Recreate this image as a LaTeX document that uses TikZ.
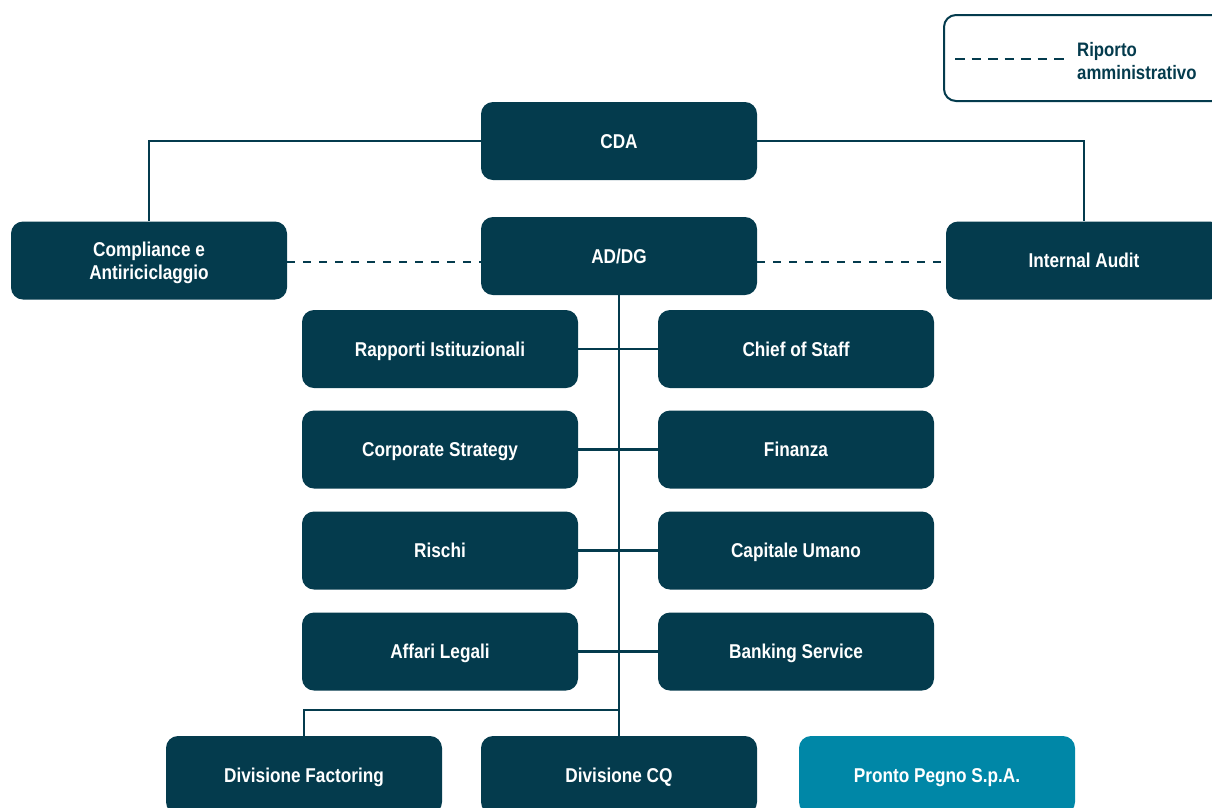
\documentclass[tikz,border=0pt]{standalone}
\usepackage{fontspec}
\setmainfont{Liberation Sans}[FakeStretch=0.86]
\definecolor{dark}{HTML}{043B4D}
\definecolor{teal}{HTML}{0087A7}
\begin{document}
\begin{tikzpicture}[x=1pt,y=-1pt,
  box/.style={rectangle,rounded corners=12pt,minimum width=276pt,minimum height=78pt,inner sep=0pt,fill=dark,text=white,font=\fontsize{20}{23}\selectfont\bfseries,align=center,text height=17pt,text depth=2.7pt},
  link/.style={draw=dark,line width=2.2pt},
  dlink/.style={draw=dark,line width=2.5pt,dash pattern=on 8pt off 8pt}]
\useasboundingbox (0,0) rectangle (1212,807);
\begin{scope}
\clip (0,0) rectangle (1212,807);
% legend
\node[draw=dark,line width=2pt,rounded corners=12pt,fill=white,minimum width=280pt,minimum height=86pt,inner sep=0pt] (leg) at (1084,58) {};
\coordinate (lga) at (955,59);
\coordinate (lgb) at (1067,59);
\draw[dlink,dash pattern=on 9.5pt off 7pt] (lga) -- (lgb);
\node[anchor=west,text=dark,font=\fontsize{19.5}{23}\selectfont\bfseries,align=left,inner sep=0pt,text height=40pt,text depth=2.7pt] (legt) at (1077,60.5) {Riporto\\amministrativo};
% nodes
\node[box] (cda) at (619,141) {CDA};
\node[box] (ad) at (619,256) {AD/DG};
\node[box,text height=40pt] (comp) at (149,260.5) {Compliance e\\Antiriciclaggio};
\node[box] (ia) at (1084,260.5) {Internal Audit};
\node[box] (l1) at (440,349) {Rapporti Istituzionali};
\node[box] (r1) at (796,349) {Chief of Staff};
\node[box] (l2) at (440,449.5) {Corporate Strategy};
\node[box] (r2) at (796,449.5) {Finanza};
\node[box] (l3) at (440,550.5) {Rischi};
\node[box] (r3) at (796,550.5) {Capitale Umano};
\node[box] (l4) at (440,651.5) {Affari Legali};
\node[box] (r4) at (796,651.5) {Banking Service};
\node[box] (fac) at (304,775) {Divisione Factoring};
\node[box] (cq) at (619,775) {Divisione CQ};
\node[box,fill=teal] (pp) at (937,775) {Pronto Pegno S.p.A.};
% connectors
\draw[link] (cda.west) -| (comp.north);
\draw[link] (cda.east) -| (ia.north);
\draw[dlink] ([yshift=-1.5pt]comp.east) -- ([yshift=-1.5pt]comp.east -| ad.west);
\draw[dlink] ([yshift=-1.5pt]ia.west -| ad.east) -- ([yshift=-1.5pt]ia.west);
\draw[link] (ad.south) -- (cq.north);
\draw[link] (l1.east) -- (r1.west);
\draw[link] (l2.east) -- (r2.west);
\draw[link] (l3.east) -- (r3.west);
\draw[link] (l4.east) -- (r4.west);
\coordinate (j) at (619,710);
\draw[link] (j) -| (fac.north);
\end{scope}
\end{tikzpicture}
\end{document}
